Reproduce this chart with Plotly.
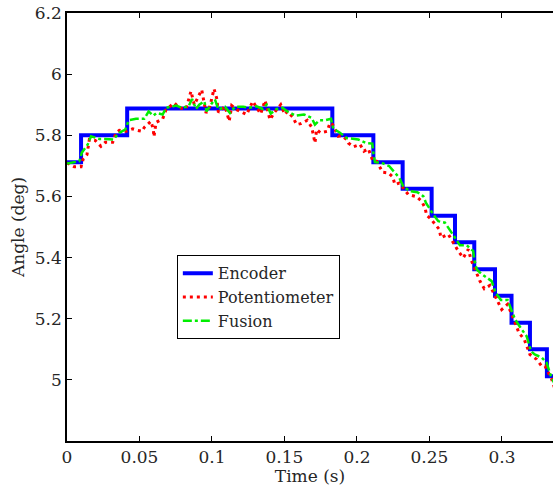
import plotly.graph_objects as go

# Encoder (step) data
enc_t = [0.0, 0.0097, 0.0415, 0.1830, 0.2113, 0.2315, 0.2515, 0.2676, 0.2809,
         0.2952, 0.3066, 0.3193, 0.3310, 0.3400]
enc_v = [5.712, 5.800, 5.888, 5.800, 5.712, 5.625, 5.537, 5.450, 5.362,
         5.275, 5.187, 5.100, 5.012, 5.012]

# Potentiometer data
pot_t = [0.0000, 0.0050, 0.0097, 0.0112, 0.0138, 0.0154, 0.0195, 0.0234, 0.0264, 0.0315,
         0.0338, 0.0361, 0.0407, 0.0453, 0.0488, 0.0517, 0.0533, 0.0579, 0.0595, 0.0600,
         0.0614, 0.0660, 0.0683, 0.0740, 0.0774, 0.0821, 0.0855, 0.0878, 0.0929, 0.0940,
         0.0959, 0.0986, 0.1014, 0.1032, 0.1044, 0.1090, 0.1119, 0.1136, 0.1170, 0.1239,
         0.1281, 0.1336, 0.1366, 0.1400, 0.1428, 0.1474, 0.1503, 0.1519, 0.1556, 0.1584,
         0.1612, 0.1657, 0.1687, 0.1699, 0.1710, 0.1722, 0.1749, 0.1795, 0.1814, 0.1832,
         0.1871, 0.1894, 0.1929, 0.1940, 0.1975, 0.2021, 0.2048, 0.2078, 0.2108, 0.2136,
         0.2177, 0.2216, 0.2246, 0.2262, 0.2292, 0.2354, 0.2412, 0.2446, 0.2469, 0.2481,
         0.2508, 0.2568, 0.2579, 0.2630, 0.2699, 0.2733, 0.2768, 0.2786, 0.2848, 0.2878,
         0.2917, 0.2998, 0.3039, 0.3090, 0.3117, 0.3154, 0.3193, 0.3239, 0.3274, 0.3297,
         0.3343, 0.3365]
pot_v = [5.710, 5.697, 5.697, 5.723, 5.737, 5.786, 5.783, 5.764, 5.777, 5.777,
         5.808, 5.816, 5.813, 5.821, 5.816, 5.813, 5.826, 5.846, 5.819, 5.795,
         5.842, 5.854, 5.884, 5.906, 5.890, 5.886, 5.944, 5.900, 5.949, 5.922,
         5.873, 5.895, 5.952, 5.922, 5.875, 5.895, 5.846, 5.897, 5.884, 5.868,
         5.911, 5.870, 5.914, 5.851, 5.873, 5.900, 5.868, 5.878, 5.860, 5.835,
         5.838, 5.849, 5.827, 5.802, 5.775, 5.819, 5.808, 5.813, 5.841, 5.835,
         5.797, 5.799, 5.786, 5.775, 5.762, 5.770, 5.748, 5.756, 5.718, 5.715,
         5.679, 5.677, 5.664, 5.639, 5.644, 5.606, 5.599, 5.584, 5.563, 5.538,
         5.527, 5.492, 5.465, 5.476, 5.421, 5.399, 5.427, 5.394, 5.323, 5.298,
         5.309, 5.230, 5.247, 5.187, 5.154, 5.132, 5.083, 5.067, 5.045, 5.045,
         5.002, 4.970]

# Fusion data
fus_t = [0.0000, 0.0028, 0.0085, 0.0103, 0.0143, 0.0166, 0.0223, 0.0264, 0.0319, 0.0361,
         0.0402, 0.0426, 0.0476, 0.0533, 0.0563, 0.0595, 0.0618, 0.0660, 0.0683, 0.0752,
         0.0793, 0.0839, 0.0862, 0.0890, 0.0912, 0.0947, 0.0963, 0.0998, 0.1021, 0.1044,
         0.1090, 0.1124, 0.1159, 0.1216, 0.1257, 0.1308, 0.1350, 0.1377, 0.1405, 0.1446,
         0.1488, 0.1519, 0.1579, 0.1634, 0.1687, 0.1710, 0.1740, 0.1779, 0.1821, 0.1837,
         0.1878, 0.1929, 0.1963, 0.2009, 0.2062, 0.2106, 0.2113, 0.2124, 0.2170, 0.2223,
         0.2262, 0.2292, 0.2319, 0.2366, 0.2416, 0.2457, 0.2476, 0.2503, 0.2526, 0.2561,
         0.2607, 0.2676, 0.2710, 0.2757, 0.2802, 0.2809, 0.2826, 0.2855, 0.2901, 0.2929,
         0.2956, 0.2993, 0.3039, 0.3066, 0.3090, 0.3136, 0.3170, 0.3200, 0.3226, 0.3274,
         0.3308, 0.3338, 0.3360]
fus_v = [5.708, 5.710, 5.715, 5.744, 5.770, 5.797, 5.788, 5.788, 5.786, 5.808,
         5.819, 5.849, 5.854, 5.854, 5.878, 5.864, 5.873, 5.868, 5.890, 5.897,
         5.890, 5.895, 5.919, 5.886, 5.900, 5.911, 5.878, 5.904, 5.917, 5.884,
         5.893, 5.873, 5.893, 5.893, 5.890, 5.895, 5.886, 5.900, 5.871, 5.886,
         5.890, 5.878, 5.864, 5.868, 5.857, 5.835, 5.849, 5.849, 5.854, 5.821,
         5.810, 5.791, 5.788, 5.786, 5.775, 5.773, 5.742, 5.712, 5.710, 5.699,
         5.677, 5.661, 5.633, 5.617, 5.614, 5.601, 5.579, 5.557, 5.541, 5.519,
         5.514, 5.465, 5.440, 5.440, 5.421, 5.394, 5.361, 5.348, 5.334, 5.323,
         5.285, 5.261, 5.261, 5.230, 5.198, 5.165, 5.143, 5.094, 5.083, 5.073,
         5.056, 5.012, 4.990]

x_ticks = [0, 0.05, 0.1, 0.15, 0.2, 0.25, 0.3]
x_labels = ["0", "0.05", "0.1", "0.15", "0.2", "0.25", "0.3"]
y_ticks = [5.0, 5.2, 5.4, 5.6, 5.8, 6.0, 6.2]
y_labels = ["5", "5.2", "5.4", "5.6", "5.8", "6", "6.2"]

FONT = "'DejaVu Serif', 'Liberation Serif', serif"

fig = go.Figure()
fig.add_trace(go.Scatter(x=enc_t, y=enc_v, mode="lines", name="Encoder",
                         line=dict(color="#0000FF", width=4, shape="hv")))
fig.add_trace(go.Scatter(x=pot_t, y=pot_v, mode="lines", name="Potentiometer",
                         line=dict(color="#FF0000", width=3, dash="3px,4px")))
fig.add_trace(go.Scatter(x=fus_t, y=fus_v, mode="lines", name="Fusion",
                         line=dict(color="#00EE00", width=2.5, dash="dashdot")))

fig.update_layout(
    template="none",
    width=553, height=486,
    margin=dict(l=67, r=0, t=13, b=45),
    paper_bgcolor="white", plot_bgcolor="white",
    font=dict(family=FONT, size=17, color="#262626"),
    showlegend=True,
    legend=dict(x=0.226, y=0.434, xanchor="left", yanchor="top",
                bgcolor="white", bordercolor="black", borderwidth=1,
                font=dict(family=FONT, size=16, color="#262626"),
                tracegroupgap=0, entrywidth=145, entrywidthmode="pixels"),
    xaxis=dict(range=[0, 0.3352], tickvals=x_ticks, ticktext=x_labels,
               ticks="inside", ticklen=5, tickcolor="black", showgrid=False,
               zeroline=False, showline=True, linecolor="black", linewidth=1.5,
               mirror="ticks", automargin=False,
               title=dict(text="Time (s)", standoff=0, font=dict(family=FONT, size=17))),
    yaxis=dict(range=[4.8, 6.2], tickvals=y_ticks, ticktext=y_labels,
               ticks="inside", ticklen=5, tickcolor="black", showgrid=False,
               zeroline=False, showline=True, linecolor="black", linewidth=1.5,
               mirror=False, automargin=False,
               title=dict(text="Angle (deg)", standoff=6, font=dict(family=FONT, size=17))),
)

fig.write_html(
    "out.html",
    config={"displayModeBar": False},
    post_script="document.body.style.margin='0';document.body.style.overflow='hidden';",
)
